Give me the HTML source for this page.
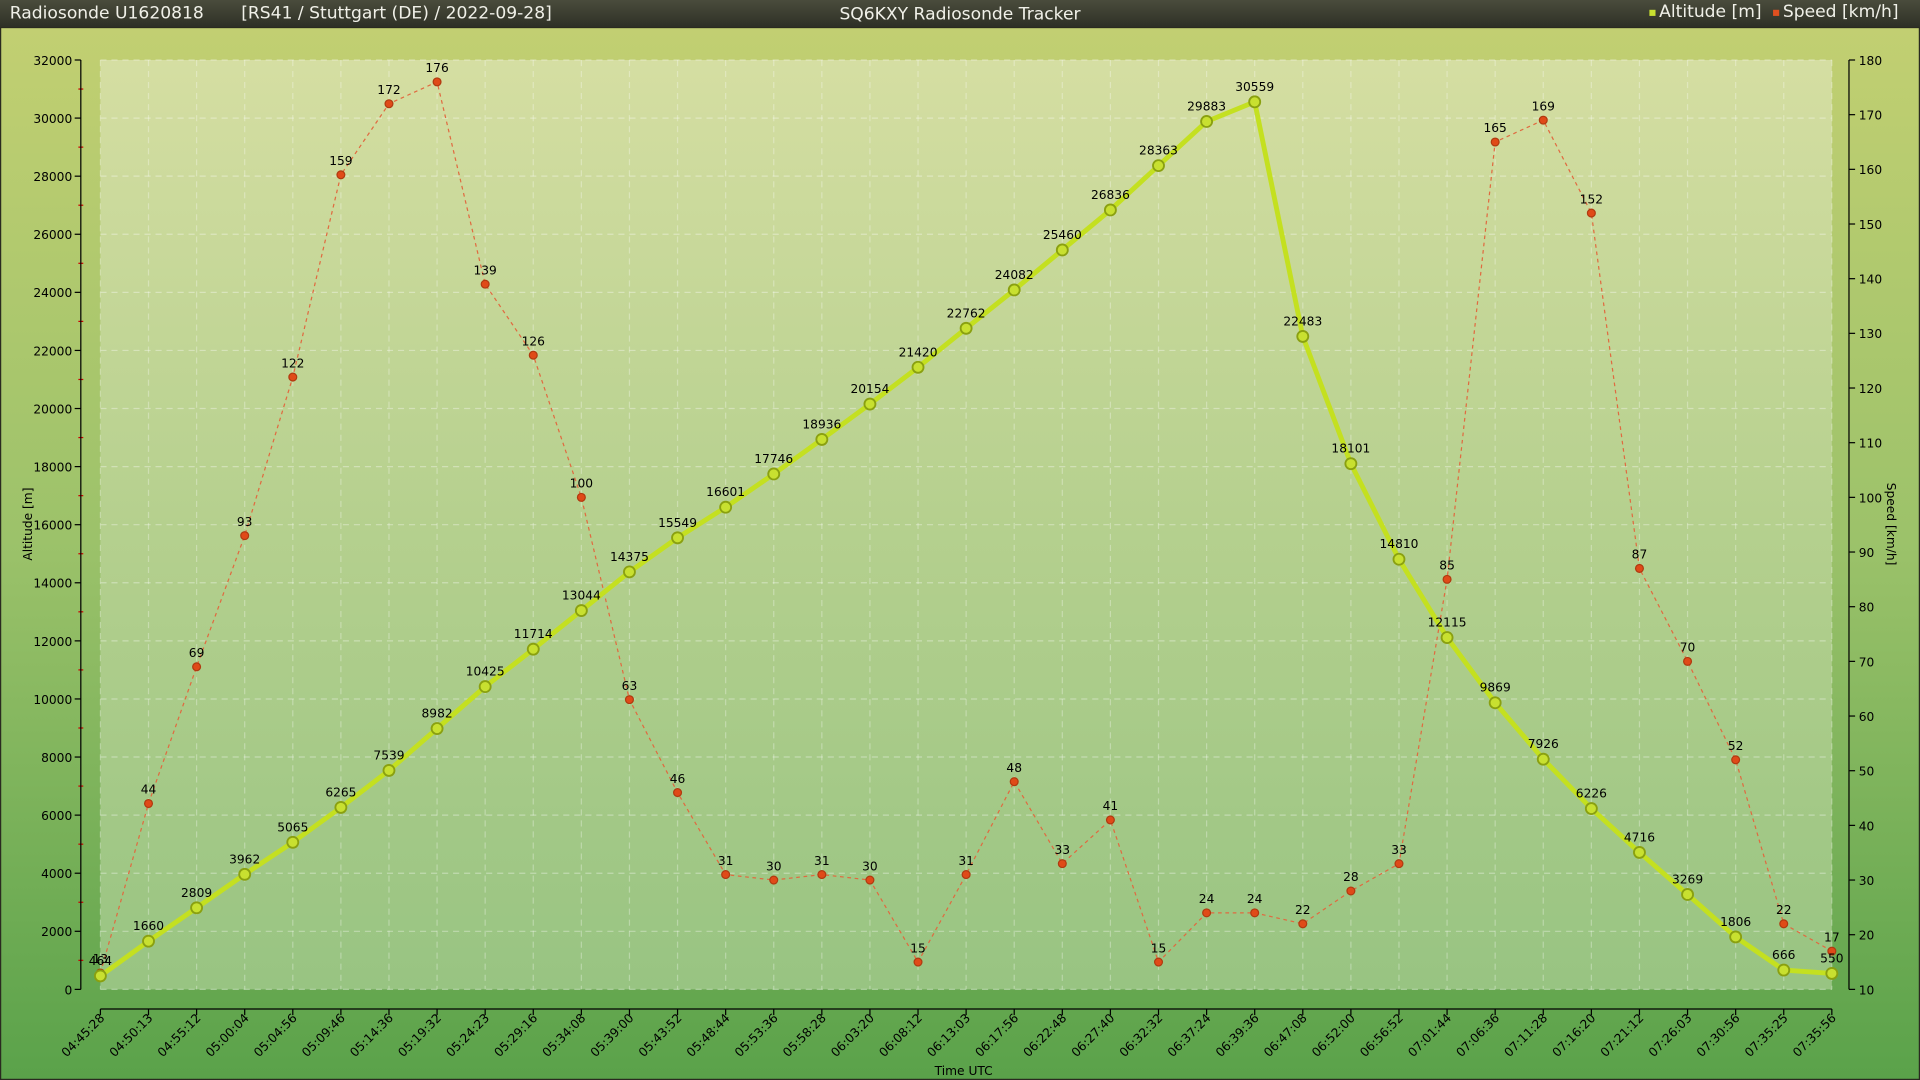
<!DOCTYPE html>
<html><head><meta charset="utf-8"><style>
html,body{margin:0;padding:0;width:1920px;height:1080px;overflow:hidden;background:#8fbb5c}
svg{display:block}
text{font-family:"DejaVu Sans","Liberation Sans",sans-serif}
</style></head><body>
<svg id="s" width="1920" height="1080" viewBox="0 0 1568 882" preserveAspectRatio="none" xmlns="http://www.w3.org/2000/svg">
<defs>
<linearGradient id="bg" x1="0" y1="0" x2="0" y2="1">
<stop offset="0" stop-color="#c4d072"/><stop offset="0.5" stop-color="#9cc26a"/><stop offset="1" stop-color="#5aa24a"/></linearGradient>
<linearGradient id="pl" x1="0" y1="0" x2="0" y2="1">
<stop offset="0" stop-color="#d5dea2"/><stop offset="0.5" stop-color="#b5d08e"/><stop offset="1" stop-color="#98c482"/></linearGradient>
<linearGradient id="tb" x1="0" y1="0" x2="0" y2="1">
<stop offset="0" stop-color="#4a4c3c"/><stop offset="1" stop-color="#2e3026"/></linearGradient>
</defs>
<rect width="1568" height="882" fill="url(#bg)"/>
<rect x="0" y="22" width="1568" height="860" fill="none" stroke="#2a2a20" stroke-width="2"/>
<rect width="1568" height="22" fill="url(#tb)"/>
<text x="8" y="15" font-size="14" fill="#f0f0e8">Radiosonde U1620818</text>
<text x="197" y="15" font-size="14" fill="#f0f0e8">[RS41 / Stuttgart (DE) / 2022-09-28]</text>
<text x="784" y="16" font-size="14" fill="#f0f0e8" text-anchor="middle">SQ6KXY Radiosonde Tracker</text>
<rect x="1347" y="8" width="5" height="5" fill="#c8e030"/>
<text x="1355" y="14" font-size="14" fill="#f0f0e8">Altitude [m]</text>
<rect x="1448" y="8" width="5" height="5" fill="#e05020"/>
<text x="1456" y="14" font-size="14" fill="#f0f0e8">Speed [km/h]</text>
<rect x="82" y="49" width="1414" height="759" fill="url(#pl)"/>
<g id="g"></g>
</svg>
<script>
const alt=[464,1660,2809,3962,5065,6265,7539,8982,10425,11714,13044,14375,15549,16601,17746,18936,20154,21420,22762,24082,25460,26836,28363,29883,30559,22483,18101,14810,12115,9869,7926,6226,4716,3269,1806,666,550];
const spd=[13,44,69,93,122,159,172,176,139,126,100,63,46,31,30,31,30,15,31,48,33,41,15,24,24,22,28,33,85,165,169,152,87,70,52,22,17];
const tm="04:45:28,04:50:13,04:55:12,05:00:04,05:04:56,05:09:46,05:14:36,05:19:32,05:24:23,05:29:16,05:34:08,05:39:00,05:43:52,05:48:44,05:53:36,05:58:28,06:03:20,06:08:12,06:13:03,06:17:56,06:22:48,06:27:40,06:32:32,06:37:24,06:39:36,06:47:08,06:52:00,06:56:52,07:01:44,07:06:36,07:11:28,07:16:20,07:21:12,07:26:03,07:30:56,07:35:25,07:35:56".split(",");
const X=i=>82+i*1414/36, YA=a=>808-a/32000*759, YS=s=>808-(s-10)/170*759;
let h="";
for(let k=0;k<=16;k++){const y=YA(k*2000);h+=`<line x1="82" x2="1496" y1="${y}" y2="${y}" stroke="#fff" stroke-opacity="0.35" stroke-dasharray="5,4"/>`;
h+=`<line x1="61" x2="66" y1="${y}" y2="${y}" stroke="#000"/><text x="59" y="${y+4}" font-size="10" text-anchor="end">${k*2000}</text>`;
if(k<16)h+=`<line x1="64" x2="68" y1="${y-759/32}" y2="${y-759/32}" stroke="#c00"/>`;}
for(let k=0;k<18;k++){const y=YS(10+k*10);h+=`<line x1="1510" x2="1515" y1="${y}" y2="${y}" stroke="#000"/><text x="1518" y="${y+4}" font-size="10">${10+k*10}</text>`;}
for(let i=0;i<37;i++){const x=X(i);h+=`<line x1="${x}" x2="${x}" y1="49" y2="808" stroke="#fff" stroke-opacity="0.3" stroke-dasharray="5,4"/>`;
h+=`<line x1="${x}" x2="${x}" y1="824" y2="829" stroke="#000"/><text transform="translate(${x+4},832) rotate(-45)" font-size="10" text-anchor="end">${tm[i]}</text>`;}
h+=`<line x1="66" x2="66" y1="49" y2="808" stroke="#000"/><line x1="1510" x2="1510" y1="49" y2="808" stroke="#000"/><line x1="82" x2="1496" y1="824" y2="824" stroke="#000"/>`;
h+=`<text transform="translate(26,428) rotate(-90)" font-size="10" text-anchor="middle">Altitude [m]</text>`;
h+=`<text transform="translate(1541,428) rotate(90)" font-size="10" text-anchor="middle">Speed [km/h]</text>`;
h+=`<text x="787" y="878" font-size="10" text-anchor="middle">Time UTC</text>`;
h+=`<polyline fill="none" stroke="#e06a40" stroke-width="1" stroke-dasharray="3,3" points="${spd.map((s,i)=>X(i)+','+YS(s)).join(' ')}"/>`;
h+=`<polyline fill="none" stroke="#c4e020" stroke-width="4" stroke-linejoin="round" points="${alt.map((a,i)=>X(i)+','+YA(a)).join(' ')}"/>`;
spd.forEach((s,i)=>{h+=`<circle cx="${X(i)}" cy="${YS(s)}" r="3.2" fill="#e04a18" stroke="#b03a10" stroke-width="1"/><text x="${X(i)}" y="${YS(s)-8}" font-size="10" text-anchor="middle">${s}</text>`;});
alt.forEach((a,i)=>{h+=`<circle cx="${X(i)}" cy="${YA(a)}" r="4.5" fill="#c8e030" stroke="#8aa010" stroke-width="1.5"/><text x="${X(i)}" y="${YA(a)-9}" font-size="10" text-anchor="middle">${a}</text>`;});
document.getElementById("g").innerHTML=h;
</script>
</body></html>
